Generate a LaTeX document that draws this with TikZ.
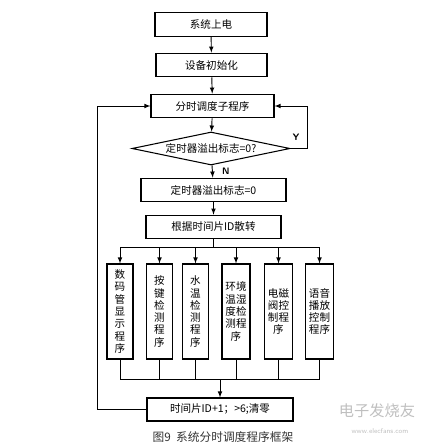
\documentclass[tikz,border=0pt]{standalone}
\usepackage{fontspec}
\newfontfamily\cjk{Noto Sans CJK SC}
\usetikzlibrary{arrows,shapes,positioning}

\begin{document}
\begin{tikzpicture}[x=0.03cm,y=-0.03cm,>=latex]
                \tikzstyle{every node}+=[font=\cjk\fontsize{9}{10.5}\selectfont]
                \tikzstyle{box}=[draw,line width=0.9pt,inner sep=0pt,minimum height=0.71cm]
                \tikzstyle{prog}=[draw,line width=0.9pt,inner sep=0pt,minimum height=2.85cm,align=center]
                \tikzstyle{line}=[line width=0.8pt]
                \useasboundingbox (0,0) rectangle (440,447);
                % main column
                \node[box,minimum width=3.36cm] (power) at (211,24.5) {系统上电};
                \node[box,minimum width=3.33cm] (init) at (211.5,65) {设备初始化};
                \node[box,minimum width=3.69cm] (sched) at (212.5,106) {分时调度子程序};
                \node[diamond,draw,line width=0.9pt,aspect=4.8,inner sep=0pt,minimum width=4.74cm,minimum height=0.99cm] (test) at (211,148.5) {定时器溢出标志=0?};
                \node[box,minimum width=4.35cm] (clear) at (213.5,190) {定时器溢出标志=0};
                \node[box,minimum width=4.05cm] (jump) at (213.5,227) {根据时间片ID散转};
                % task boxes
                \node[prog,minimum width=0.78cm] (p1) at (120,311.5) {数\\码\\管\\显\\示\\程\\序};
                \node[prog,minimum width=0.76cm] (p2) at (159.5,311.5) {按\\键\\检\\测\\程\\序};
                \node[prog,minimum width=0.76cm] (p3) at (195.5,311.5) {水\\温\\检\\测\\程\\序};
                \node[prog,minimum width=0.84cm] (p4) at (236,311.5) {环境\\温湿\\度检\\测程\\序};
                \node[prog,minimum width=0.86cm] (p5) at (278.5,311.5) {电磁\\阀控\\制程\\序};
                \node[prog,minimum width=0.82cm] (p6) at (319.5,311.5) {语音\\播放\\控制\\程序};
                \node[box,minimum width=4.38cm,minimum height=0.69cm] (next) at (220,409.5) {时间片ID+1；>6;清零};
                % helper points
                \coordinate (split) at (213.5,247);
                \coordinate (merge) at (220,379);
                \coordinate (lft) at (97,409.5);
                \coordinate (rgt) at (307,148.5);
                % connectors
                \draw[line,->] (power) -- (init);
                \draw[line,->] (init) -- (sched);
                \draw[line,->] (sched) -- (test);
                \draw[line,->] (test) -- (clear);
                \draw (test.south) ++(7,6) node[right,font=\sffamily\bfseries\fontsize{8}{9}\selectfont] {N};
                \draw[line,->] (clear) -- (jump);
                \draw[line,->] (test.east) -- (rgt) |- (sched.east);
                \draw (296,137) node[font=\sffamily\bfseries\fontsize{8}{9}\selectfont] {Y};
                \draw[line] (jump.south) -- (split);
                \draw[line] (p1.north |- split) -- (p6.north |- split);
                \foreach \i in {1,...,6}
                    \draw[line,->] (p\i.north |- split) -- (p\i.north);
                \foreach \i in {1,...,6}
                    \draw[line] (p\i.south) -- (p\i.south |- merge);
                \draw[line] (p1.south |- merge) -- (p6.south |- merge);
                \draw[line,->] (merge) -- (next);
                \draw[line,->] (next.west) -- (lft) |- (sched.west);
                % caption and watermark
                \node[font=\cjk\fontsize{10}{12}\selectfont,text=black!80] (cap) at (223,437) {图9\ \ 系统分时调度程序框架};
                \node[font=\cjk\fontsize{13}{15}\selectfont,text=black!25] (wm) at (377,411) {电子发烧友};
                \node[font=\sffamily\fontsize{6}{7}\selectfont,text=black!25] (url) at (380,431) {www.elecfans.com};
            \end{tikzpicture}
\end{document}
